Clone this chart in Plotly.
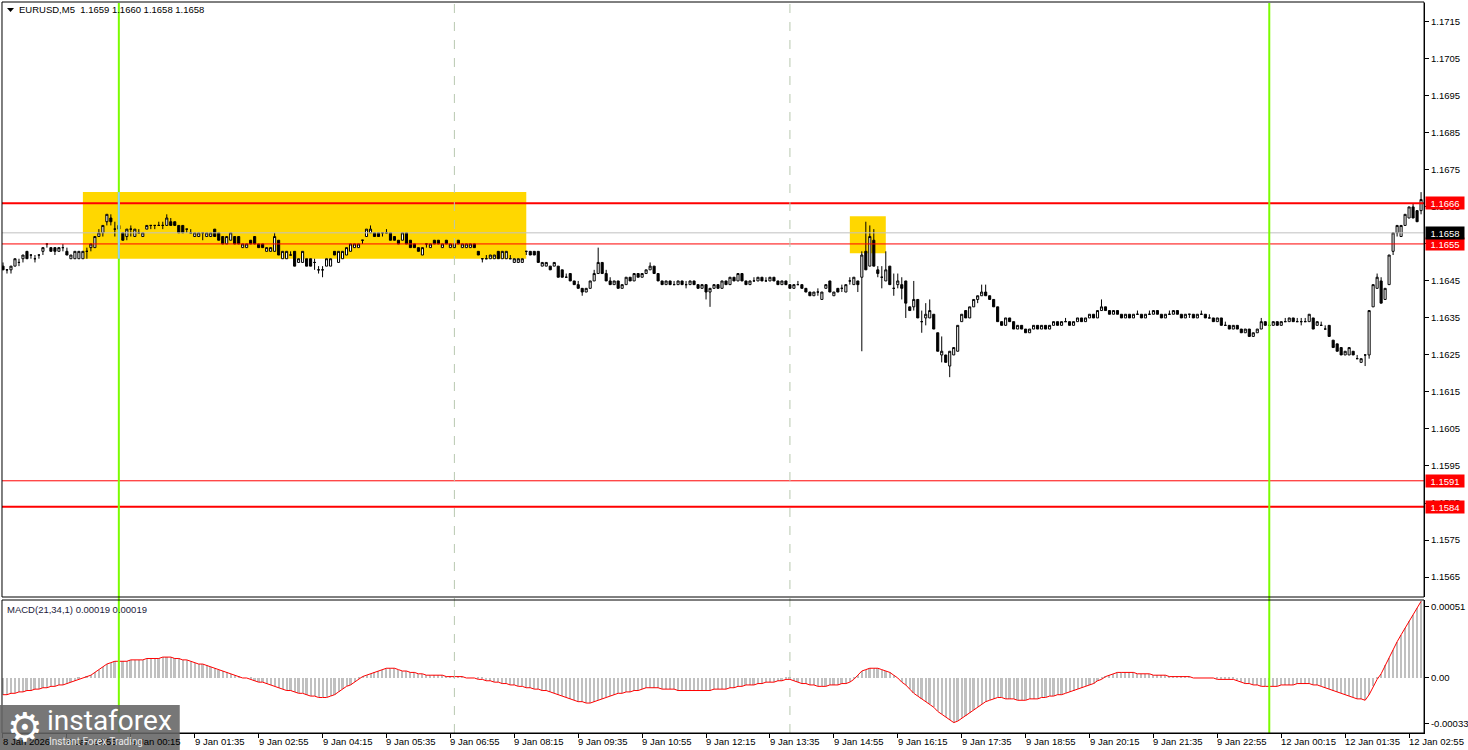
import plotly.graph_objects as go

W, H = 1468, 750

# ---------------- data (EURUSD M5, one value per bar) ----------------
opens = [
1.1649,1.1648,1.1648,1.1649,1.1650,1.1651,1.1653,1.1652,1.1651,1.1652,
1.1653,1.1655,1.1654,1.1654,1.1653,1.1654,1.1653,1.1651,1.1651,1.1651,
1.1651,1.1653,1.1654,1.1654,1.1657,1.1658,1.1661,1.1662,1.1659,1.1660,
1.1658,1.1657,1.1659,1.1657,1.1658,1.1657,1.1659,1.1660,1.1660,1.1660,
1.1660,1.1660,1.1661,1.1661,1.1660,1.1660,1.1659,1.1658,1.1657,1.1657,
1.1658,1.1657,1.1657,1.1659,1.1658,1.1657,1.1655,1.1656,1.1657,1.1657,
1.1654,1.1654,1.1656,1.1657,1.1655,1.1655,1.1653,1.1653,1.1653,1.1656,
1.1651,1.1651,1.1652,1.1653,1.1650,1.1650,1.1651,1.1651,1.1650,1.1648,
1.1648,1.1649,1.1649,1.1653,1.1650,1.1651,1.1652,1.1653,1.1654,1.1654,
1.1656,1.1657,1.1658,1.1658,1.1658,1.1658,1.1658,1.1658,1.1657,1.1656,
1.1656,1.1658,1.1656,1.1655,1.1654,1.1652,1.1655,1.1654,1.1656,1.1656,
1.1654,1.1656,1.1654,1.1654,1.1656,1.1654,1.1654,1.1654,1.1655,1.1653,
1.1651,1.1651,1.1651,1.1651,1.1653,1.1651,1.1651,1.1651,1.1650,1.1650,
1.1650,1.1653,1.1653,1.1653,1.1653,1.1649,1.1649,1.1649,1.1649,1.1649,
1.1648,1.1646,1.1647,1.1645,1.1644,1.1643,1.1642,1.1643,1.1645,1.1647,
1.1650,1.1647,1.1645,1.1644,1.1645,1.1643,1.1644,1.1646,1.1645,1.1647,
1.1646,1.1647,1.1648,1.1649,1.1647,1.1645,1.1644,1.1645,1.1644,1.1644,
1.1645,1.1644,1.1644,1.1645,1.1644,1.1643,1.1644,1.1642,1.1643,1.1644,
1.1643,1.1645,1.1644,1.1646,1.1645,1.1647,1.1645,1.1644,1.1645,1.1645,
1.1646,1.1645,1.1645,1.1646,1.1645,1.1644,1.1645,1.1644,1.1643,1.1644,
1.1644,1.1643,1.1642,1.1641,1.1642,1.1640,1.1643,1.1645,1.1641,1.1643,
1.1643,1.1642,1.1645,1.1644,1.1645,1.1646,1.1653,1.1649,1.1656,1.1648,
1.1646,1.1645,1.1649,1.1643,1.1644,1.1644,1.1645,1.1638,1.1638,1.1640,
1.1634,1.1635,1.1635,1.1636,1.1631,1.1625,1.1625,1.1622,1.1625,1.1626,
1.1634,1.1637,1.1635,1.1638,1.1640,1.1641,1.1642,1.1641,1.1640,1.1638,
1.1634,1.1633,1.1635,1.1634,1.1632,1.1633,1.1632,1.1631,1.1632,1.1633,
1.1632,1.1633,1.1632,1.1633,1.1634,1.1633,1.1634,1.1634,1.1633,1.1634,
1.1635,1.1634,1.1635,1.1636,1.1635,1.1637,1.1638,1.1637,1.1636,1.1637,
1.1636,1.1635,1.1636,1.1635,1.1636,1.1636,1.1635,1.1636,1.1636,1.1637,
1.1636,1.1635,1.1636,1.1636,1.1637,1.1636,1.1635,1.1636,1.1636,1.1635,
1.1636,1.1636,1.1635,1.1635,1.1634,1.1635,1.1633,1.1633,1.1632,1.1633,
1.1632,1.1631,1.1632,1.1630,1.1631,1.1632,1.1634,1.1633,1.1633,1.1634,
1.1633,1.1634,1.1634,1.1635,1.1634,1.1634,1.1634,1.1634,1.1635,1.1633,
1.1633,1.1632,1.1633,1.1629,1.1628,1.1627,1.1625,1.1625,1.1626,1.1624,
1.1623,1.1625,1.1625,1.1638,1.1643,1.1645,1.1640,1.1644,1.1653,1.1658,
1.1657,1.1660,1.1662,1.1665,1.1664,1.1664]

highs = [
1.1650,1.1648,1.1649,1.1651,1.1651,1.1652,1.1653,1.1652,1.1652,1.1652,
1.1654,1.1655,1.1654,1.1654,1.1654,1.1655,1.1654,1.1652,1.1653,1.1653,
1.1653,1.1654,1.1655,1.1657,1.1659,1.1660,1.1663,1.1663,1.1661,1.1660,
1.1658,1.1659,1.1660,1.1659,1.1659,1.1658,1.1660,1.1660,1.1660,1.1661,
1.1661,1.1663,1.1662,1.1661,1.1660,1.1660,1.1659,1.1659,1.1658,1.1658,
1.1658,1.1658,1.1658,1.1659,1.1658,1.1657,1.1657,1.1658,1.1657,1.1657,
1.1655,1.1655,1.1656,1.1657,1.1655,1.1655,1.1654,1.1654,1.1658,1.1656,
1.1653,1.1653,1.1653,1.1653,1.1651,1.1653,1.1651,1.1651,1.1651,1.1649,
1.1649,1.1651,1.1651,1.1653,1.1653,1.1653,1.1654,1.1655,1.1655,1.1655,
1.1656,1.1659,1.1660,1.1658,1.1658,1.1658,1.1659,1.1658,1.1657,1.1656,
1.1658,1.1658,1.1656,1.1655,1.1654,1.1654,1.1655,1.1655,1.1656,1.1656,
1.1655,1.1656,1.1655,1.1655,1.1656,1.1655,1.1655,1.1655,1.1655,1.1653,
1.1651,1.1652,1.1652,1.1652,1.1653,1.1653,1.1653,1.1652,1.1651,1.1651,
1.1651,1.1653,1.1653,1.1653,1.1653,1.1650,1.1650,1.1649,1.1650,1.1649,
1.1648,1.1647,1.1647,1.1645,1.1645,1.1643,1.1643,1.1645,1.1648,1.1654,
1.1650,1.1648,1.1646,1.1645,1.1645,1.1644,1.1646,1.1646,1.1647,1.1647,
1.1647,1.1648,1.1650,1.1649,1.1647,1.1645,1.1645,1.1645,1.1645,1.1645,
1.1645,1.1645,1.1645,1.1645,1.1644,1.1644,1.1644,1.1643,1.1644,1.1644,
1.1645,1.1645,1.1646,1.1646,1.1647,1.1647,1.1645,1.1645,1.1646,1.1646,
1.1646,1.1646,1.1646,1.1646,1.1645,1.1645,1.1645,1.1644,1.1644,1.1645,
1.1644,1.1643,1.1642,1.1642,1.1643,1.1642,1.1644,1.1645,1.1642,1.1643,
1.1644,1.1644,1.1646,1.1646,1.1645,1.1653,1.1661,1.1660,1.1659,1.1649,
1.1649,1.1653,1.1649,1.1647,1.1647,1.1646,1.1645,1.1638,1.1645,1.1640,
1.1637,1.1639,1.1640,1.1636,1.1631,1.1630,1.1625,1.1626,1.1627,1.1633,
1.1636,1.1637,1.1638,1.1640,1.1641,1.1644,1.1644,1.1641,1.1640,1.1638,
1.1634,1.1635,1.1635,1.1634,1.1633,1.1633,1.1632,1.1632,1.1633,1.1633,
1.1633,1.1633,1.1633,1.1634,1.1634,1.1634,1.1635,1.1634,1.1634,1.1635,
1.1635,1.1635,1.1636,1.1636,1.1637,1.1640,1.1638,1.1637,1.1637,1.1637,
1.1636,1.1636,1.1636,1.1636,1.1637,1.1636,1.1636,1.1637,1.1637,1.1637,
1.1636,1.1636,1.1637,1.1637,1.1637,1.1636,1.1636,1.1636,1.1636,1.1636,
1.1637,1.1636,1.1636,1.1635,1.1635,1.1635,1.1634,1.1633,1.1633,1.1633,
1.1632,1.1632,1.1632,1.1631,1.1632,1.1635,1.1634,1.1634,1.1634,1.1634,
1.1634,1.1635,1.1635,1.1635,1.1635,1.1635,1.1635,1.1636,1.1635,1.1634,
1.1634,1.1633,1.1633,1.1629,1.1628,1.1627,1.1626,1.1627,1.1626,1.1625,
1.1624,1.1625,1.1637,1.1644,1.1647,1.1646,1.1643,1.1652,1.1658,1.1660,
1.1660,1.1663,1.1665,1.1666,1.1664,1.1669]

lows = [
1.1648,1.1647,1.1647,1.1649,1.1649,1.1650,1.1651,1.1651,1.1650,1.1651,
1.1652,1.1654,1.1653,1.1652,1.1653,1.1653,1.1652,1.1651,1.1651,1.1651,
1.1651,1.1651,1.1653,1.1654,1.1657,1.1657,1.1660,1.1660,1.1657,1.1658,
1.1656,1.1656,1.1657,1.1657,1.1658,1.1657,1.1659,1.1659,1.1659,1.1660,
1.1659,1.1660,1.1660,1.1660,1.1658,1.1658,1.1658,1.1658,1.1657,1.1657,
1.1656,1.1657,1.1657,1.1657,1.1656,1.1655,1.1655,1.1656,1.1655,1.1655,
1.1654,1.1654,1.1655,1.1655,1.1654,1.1654,1.1653,1.1653,1.1653,1.1652,
1.1651,1.1651,1.1652,1.1649,1.1650,1.1650,1.1649,1.1649,1.1648,1.1647,
1.1646,1.1649,1.1649,1.1652,1.1650,1.1651,1.1652,1.1653,1.1654,1.1654,
1.1655,1.1657,1.1658,1.1657,1.1657,1.1657,1.1658,1.1656,1.1656,1.1655,
1.1656,1.1655,1.1654,1.1654,1.1653,1.1652,1.1654,1.1654,1.1655,1.1655,
1.1654,1.1655,1.1654,1.1654,1.1655,1.1654,1.1654,1.1654,1.1654,1.1652,
1.1650,1.1651,1.1651,1.1651,1.1651,1.1651,1.1651,1.1651,1.1650,1.1650,
1.1650,1.1652,1.1652,1.1652,1.1650,1.1649,1.1649,1.1648,1.1649,1.1646,
1.1646,1.1646,1.1645,1.1644,1.1643,1.1641,1.1642,1.1643,1.1645,1.1647,
1.1647,1.1645,1.1644,1.1644,1.1643,1.1643,1.1644,1.1645,1.1645,1.1646,
1.1646,1.1647,1.1648,1.1647,1.1645,1.1644,1.1644,1.1644,1.1644,1.1644,
1.1644,1.1643,1.1644,1.1644,1.1643,1.1643,1.1640,1.1638,1.1643,1.1643,
1.1643,1.1644,1.1644,1.1645,1.1645,1.1645,1.1644,1.1644,1.1645,1.1645,
1.1645,1.1645,1.1645,1.1645,1.1644,1.1644,1.1644,1.1643,1.1643,1.1644,
1.1643,1.1642,1.1641,1.1641,1.1641,1.1640,1.1643,1.1642,1.1641,1.1642,
1.1642,1.1642,1.1644,1.1644,1.1642,1.1626,1.1648,1.1649,1.1649,1.1646,
1.1643,1.1645,1.1644,1.1641,1.1643,1.1640,1.1635,1.1637,1.1637,1.1635,
1.1631,1.1633,1.1635,1.1632,1.1626,1.1623,1.1623,1.1619,1.1625,1.1626,
1.1634,1.1635,1.1635,1.1638,1.1639,1.1641,1.1641,1.1640,1.1638,1.1634,
1.1633,1.1633,1.1634,1.1632,1.1632,1.1632,1.1631,1.1631,1.1632,1.1632,
1.1632,1.1632,1.1632,1.1633,1.1633,1.1633,1.1634,1.1633,1.1633,1.1634,
1.1634,1.1634,1.1635,1.1635,1.1635,1.1637,1.1637,1.1636,1.1636,1.1636,
1.1635,1.1635,1.1635,1.1635,1.1636,1.1635,1.1635,1.1636,1.1636,1.1636,
1.1635,1.1635,1.1636,1.1636,1.1636,1.1635,1.1635,1.1635,1.1635,1.1635,
1.1636,1.1635,1.1635,1.1634,1.1634,1.1633,1.1633,1.1632,1.1632,1.1632,
1.1631,1.1631,1.1630,1.1630,1.1631,1.1632,1.1633,1.1633,1.1633,1.1633,
1.1633,1.1634,1.1634,1.1634,1.1634,1.1633,1.1634,1.1634,1.1632,1.1633,
1.1633,1.1632,1.1630,1.1627,1.1626,1.1625,1.1625,1.1625,1.1625,1.1624,
1.1623,1.1622,1.1624,1.1638,1.1643,1.1639,1.1640,1.1644,1.1652,1.1657,
1.1657,1.1660,1.1662,1.1662,1.1661,1.1663]

closes = [
1.1648,1.1648,1.1649,1.1651,1.1650,1.1652,1.1651,1.1652,1.1651,1.1652,
1.1654,1.1655,1.1653,1.1653,1.1654,1.1654,1.1652,1.1652,1.1653,1.1653,
1.1653,1.1653,1.1655,1.1657,1.1658,1.1660,1.1663,1.1661,1.1659,1.1659,
1.1656,1.1659,1.1659,1.1659,1.1658,1.1658,1.1660,1.1660,1.1660,1.1660,
1.1660,1.1662,1.1660,1.1660,1.1658,1.1658,1.1659,1.1658,1.1658,1.1658,
1.1658,1.1658,1.1658,1.1657,1.1656,1.1655,1.1657,1.1658,1.1655,1.1655,
1.1655,1.1655,1.1655,1.1655,1.1654,1.1654,1.1654,1.1654,1.1657,1.1652,
1.1653,1.1653,1.1652,1.1649,1.1651,1.1653,1.1649,1.1649,1.1650,1.1648,
1.1648,1.1651,1.1651,1.1652,1.1653,1.1653,1.1654,1.1655,1.1655,1.1655,
1.1656,1.1659,1.1659,1.1657,1.1657,1.1658,1.1658,1.1656,1.1656,1.1655,
1.1658,1.1655,1.1654,1.1654,1.1653,1.1654,1.1655,1.1655,1.1655,1.1655,
1.1655,1.1655,1.1655,1.1655,1.1655,1.1655,1.1655,1.1655,1.1654,1.1652,
1.1651,1.1651,1.1652,1.1652,1.1651,1.1653,1.1653,1.1651,1.1651,1.1651,
1.1651,1.1653,1.1652,1.1652,1.1650,1.1650,1.1650,1.1648,1.1650,1.1646,
1.1646,1.1646,1.1645,1.1644,1.1643,1.1642,1.1643,1.1645,1.1647,1.1650,
1.1647,1.1645,1.1644,1.1645,1.1643,1.1644,1.1646,1.1645,1.1647,1.1646,
1.1647,1.1648,1.1649,1.1647,1.1645,1.1644,1.1645,1.1644,1.1644,1.1645,
1.1644,1.1644,1.1645,1.1644,1.1643,1.1644,1.1642,1.1643,1.1644,1.1643,
1.1645,1.1644,1.1646,1.1645,1.1647,1.1645,1.1644,1.1645,1.1645,1.1646,
1.1645,1.1645,1.1646,1.1645,1.1644,1.1645,1.1644,1.1643,1.1644,1.1644,
1.1643,1.1642,1.1641,1.1642,1.1642,1.1642,1.1644,1.1642,1.1642,1.1642,
1.1643,1.1644,1.1645,1.1646,1.1644,1.1652,1.1648,1.1657,1.1649,1.1647,
1.1646,1.1648,1.1644,1.1643,1.1645,1.1643,1.1639,1.1637,1.1640,1.1635,
1.1634,1.1636,1.1637,1.1632,1.1626,1.1626,1.1623,1.1626,1.1627,1.1633,
1.1636,1.1635,1.1638,1.1640,1.1641,1.1642,1.1641,1.1640,1.1638,1.1634,
1.1633,1.1635,1.1634,1.1632,1.1633,1.1632,1.1631,1.1632,1.1633,1.1632,
1.1633,1.1632,1.1633,1.1634,1.1633,1.1634,1.1634,1.1633,1.1634,1.1635,
1.1634,1.1635,1.1636,1.1635,1.1637,1.1638,1.1637,1.1636,1.1637,1.1636,
1.1635,1.1636,1.1635,1.1636,1.1636,1.1635,1.1636,1.1636,1.1637,1.1636,
1.1635,1.1636,1.1636,1.1637,1.1636,1.1635,1.1636,1.1636,1.1635,1.1636,
1.1636,1.1635,1.1635,1.1634,1.1635,1.1633,1.1633,1.1632,1.1633,1.1632,
1.1631,1.1632,1.1630,1.1631,1.1632,1.1634,1.1633,1.1633,1.1634,1.1633,
1.1634,1.1634,1.1635,1.1634,1.1634,1.1634,1.1634,1.1636,1.1632,1.1634,
1.1633,1.1632,1.1630,1.1627,1.1626,1.1625,1.1626,1.1627,1.1625,1.1624,
1.1624,1.1625,1.1637,1.1644,1.1646,1.1639,1.1643,1.1652,1.1658,1.1660,
1.1660,1.1663,1.1665,1.1662,1.1661,1.1667]

# MACD(21,34,1) main value per bar
macd_main = [
-0.00012,-0.00012,-0.00011,-0.00011,-0.00010,-0.00010,-0.00009,-0.00009,-0.00008,-0.00008,
-0.00007,-0.00007,-0.00006,-0.00006,-0.00005,-0.00005,-0.00004,-0.00003,-0.00002,-0.00001,
0.00000,0.00001,0.00002,0.00004,0.00006,0.00008,0.00010,0.00011,0.00012,0.00012,
0.00012,0.00012,0.00013,0.00013,0.00013,0.00013,0.00014,0.00014,0.00014,0.00014,
0.00015,0.00015,0.00015,0.00014,0.00014,0.00013,0.00013,0.00012,0.00011,0.00010,
0.00010,0.00009,0.00008,0.00007,0.00006,0.00005,0.00004,0.00003,0.00002,0.00001,
0.00000,0.00000,-0.00001,-0.00002,-0.00003,-0.00003,-0.00004,-0.00005,-0.00006,-0.00007,
-0.00008,-0.00009,-0.00009,-0.00010,-0.00011,-0.00011,-0.00012,-0.00013,-0.00013,-0.00014,
-0.00014,-0.00014,-0.00013,-0.00012,-0.00010,-0.00008,-0.00006,-0.00005,-0.00003,-0.00001,
0.00001,0.00002,0.00003,0.00004,0.00005,0.00006,0.00007,0.00007,0.00007,0.00006,
0.00005,0.00005,0.00004,0.00004,0.00003,0.00003,0.00002,0.00002,0.00002,0.00002,
0.00002,0.00001,0.00001,0.00001,0.00001,0.00001,0.00000,0.00000,0.00000,-0.00001,
-0.00001,-0.00002,-0.00002,-0.00003,-0.00003,-0.00004,-0.00004,-0.00005,-0.00005,-0.00006,
-0.00006,-0.00007,-0.00007,-0.00008,-0.00008,-0.00009,-0.00009,-0.00010,-0.00011,-0.00012,
-0.00013,-0.00014,-0.00015,-0.00016,-0.00017,-0.00017,-0.00018,-0.00018,-0.00017,-0.00016,
-0.00015,-0.00014,-0.00013,-0.00012,-0.00011,-0.00011,-0.00010,-0.00010,-0.00009,-0.00009,
-0.00008,-0.00007,-0.00007,-0.00007,-0.00007,-0.00008,-0.00008,-0.00008,-0.00008,-0.00009,
-0.00009,-0.00009,-0.00009,-0.00009,-0.00009,-0.00009,-0.00009,-0.00009,-0.00008,-0.00008,
-0.00008,-0.00008,-0.00007,-0.00007,-0.00006,-0.00006,-0.00005,-0.00005,-0.00005,-0.00004,
-0.00004,-0.00003,-0.00003,-0.00003,-0.00002,-0.00002,-0.00001,-0.00001,-0.00002,-0.00003,
-0.00004,-0.00004,-0.00005,-0.00005,-0.00006,-0.00006,-0.00006,-0.00005,-0.00005,-0.00005,
-0.00004,-0.00004,-0.00003,-0.00001,0.00002,0.00005,0.00006,0.00007,0.00007,0.00007,
0.00006,0.00005,0.00004,0.00002,0.00000,-0.00003,-0.00005,-0.00008,-0.00011,-0.00013,
-0.00015,-0.00017,-0.00019,-0.00021,-0.00024,-0.00026,-0.00028,-0.00030,-0.00032,-0.00031,
-0.00029,-0.00027,-0.00025,-0.00023,-0.00021,-0.00019,-0.00017,-0.00016,-0.00015,-0.00014,
-0.00014,-0.00015,-0.00015,-0.00015,-0.00016,-0.00016,-0.00016,-0.00015,-0.00015,-0.00015,
-0.00014,-0.00014,-0.00013,-0.00013,-0.00012,-0.00012,-0.00011,-0.00010,-0.00009,-0.00008,
-0.00007,-0.00006,-0.00005,-0.00004,-0.00002,-0.00001,0.00001,0.00002,0.00003,0.00004,
0.00004,0.00004,0.00004,0.00004,0.00003,0.00003,0.00003,0.00003,0.00002,0.00002,
0.00002,0.00002,0.00001,0.00001,0.00001,0.00001,0.00001,0.00001,0.00000,0.00000,
0.00000,0.00000,0.00000,0.00000,-0.00001,-0.00001,-0.00001,-0.00001,-0.00001,-0.00002,
-0.00003,-0.00004,-0.00004,-0.00005,-0.00005,-0.00006,-0.00006,-0.00006,-0.00006,-0.00006,
-0.00005,-0.00005,-0.00005,-0.00005,-0.00004,-0.00004,-0.00004,-0.00004,-0.00005,-0.00005,
-0.00006,-0.00007,-0.00008,-0.00009,-0.00010,-0.00011,-0.00012,-0.00013,-0.00014,-0.00015,
-0.00015,-0.00016,-0.00012,-0.00006,-0.00001,0.00003,0.00009,0.00014,0.00020,0.00026,
0.00031,0.00036,0.00041,0.00045,0.00050,0.00055]

time_tick_bars = [0, 16, 32, 48, 64, 80, 96, 112, 128, 144, 160, 176,
                  192, 208, 224, 240, 256, 272, 288, 304, 320, 336, 352]
time_tick_labels = ["8 Jan 2026", "8 Jan 22:55", "9 Jan 00:15", "9 Jan 01:35",
                    "9 Jan 02:55", "9 Jan 04:15", "9 Jan 05:35", "9 Jan 06:55",
                    "9 Jan 08:15", "9 Jan 09:35", "9 Jan 10:55", "9 Jan 12:15",
                    "9 Jan 13:35", "9 Jan 14:55", "9 Jan 16:15", "9 Jan 17:35",
                    "9 Jan 18:55", "9 Jan 20:15", "9 Jan 21:35", "9 Jan 22:55",
                    "12 Jan 00:15", "12 Jan 01:35", "12 Jan 02:55"]
price_ticks = [1.1715, 1.1705, 1.1695, 1.1685, 1.1675, 1.1665, 1.1655, 1.1645,
               1.1635, 1.1625, 1.1615, 1.1605, 1.1595, 1.1585, 1.1575, 1.1565]
macd_ticks = [0.00051, 0.0, -0.00033]
macd_tick_labels = ["0.00051", "0.00", "-0.00033"]

red_levels = [1.1666, 1.1655, 1.1591, 1.1584]
red_level_widths = [2, 1, 1, 2]
bid_level = 1.1658
green_vline_bars = [29, 317]
dashed_vline_bars = [113, 197]
zones = [(20, 131, 1.1651, 1.1669), (212, 221, 1.16525, 1.16625)]

title_text = "EURUSD,M5  1.1659 1.1660 1.1658 1.1658"
macd_text = "MACD(21,34,1) 0.00019 0.00019"

n = len(closes)
for arr in (opens, highs, lows, macd_main):
    assert len(arr) == n, (len(arr), n)
bars = list(range(n))

# ---------------- geometry helpers ----------------
def px(x):
    return x / W

def py(y):
    return 1 - y / H

FONT = "Liberation Sans, Arial, sans-serif"
LEFT, RIGHT = 2, 1426
X_RANGE = [-0.25, n - 0.25]

fig = go.Figure()

fig.add_trace(go.Candlestick(
    x=bars, open=opens, high=highs, low=lows, close=closes,
    increasing=dict(line=dict(color="black", width=1), fillcolor="white"),
    decreasing=dict(line=dict(color="black", width=1), fillcolor="black"),
    whiskerwidth=0, hoverinfo="skip", xaxis="x", yaxis="y"))

fig.add_trace(go.Bar(
    x=bars, y=macd_main, width=0.5,
    marker=dict(color="#C0C0C0", line=dict(width=0)),
    hoverinfo="skip", xaxis="x2", yaxis="y2"))
fig.add_trace(go.Scatter(
    x=bars, y=macd_main, mode="lines",
    line=dict(color="red", width=1),
    hoverinfo="skip", xaxis="x2", yaxis="y2"))

shapes = []
# zones (behind candles)
for x0, x1, y0, y1 in zones:
    shapes.append(dict(type="rect", xref="x", yref="y", x0=x0, x1=x1, y0=y0, y1=y1,
                       fillcolor="#FFD700", line=dict(width=0), layer="below"))
# bid line
shapes.append(dict(type="line", xref="paper", yref="y", x0=px(LEFT), x1=px(RIGHT),
                   y0=bid_level, y1=bid_level, line=dict(color="#C0C0C0", width=1)))
# red levels
for lv, lw in zip(red_levels, red_level_widths):
    shapes.append(dict(type="line", xref="paper", yref="y", x0=px(LEFT), x1=px(RIGHT),
                       y0=lv, y1=lv, line=dict(color="#FF0000", width=lw)))
# dashed vertical lines
for b in dashed_vline_bars:
    shapes.append(dict(type="line", xref="x", yref="paper", x0=b, x1=b,
                       y0=py(733), y1=py(3),
                       line=dict(color="#B8C8B0", width=1, dash="dash")))
# green vertical lines
for b in green_vline_bars:
    shapes.append(dict(type="line", xref="x", yref="paper", x0=b, x1=b,
                       y0=py(733), y1=py(3),
                       line=dict(color="#7CFC00", width=2)))
# green line seen through the zone
shapes.append(dict(type="line", xref="x", yref="y", x0=green_vline_bars[0], x1=green_vline_bars[0],
                   y0=zones[0][2], y1=zones[0][3], line=dict(color="#8ECFF5", width=2)))
# panel frames
shapes.append(dict(type="rect", xref="paper", yref="paper", x0=px(LEFT), x1=px(RIGHT),
                   y0=py(597), y1=py(2), line=dict(color="black", width=1)))
shapes.append(dict(type="rect", xref="paper", yref="paper", x0=px(LEFT), x1=px(RIGHT),
                   y0=py(733), y1=py(600), line=dict(color="black", width=1)))
# title triangle
shapes.append(dict(type="path", xref="paper", yref="paper",
                   path=f"M {px(7)},{py(8)} L {px(14)},{py(8)} L {px(10.5)},{py(12)} Z",
                   fillcolor="black", line=dict(width=0)))
# logo plate
shapes.append(dict(type="rect", xref="paper", yref="paper", x0=0, x1=px(180),
                   y0=0, y1=py(705), fillcolor="rgba(100,100,100,0.88)",
                   line=dict(width=0)))

annotations = []
# time labels
for b, t in zip(time_tick_bars, time_tick_labels):
    annotations.append(dict(x=b, xref="x2", y=py(741), yref="paper", text=t,
                            xanchor="left", yanchor="middle", showarrow=False,
                            xshift=-2, font=dict(family=FONT, size=9.5, color="black")))
# level boxes
for lv in red_levels:
    annotations.append(dict(x=px(1427), xref="paper", y=lv, yref="y", text=f"{lv:.4f}",
                            xanchor="left", yanchor="middle", showarrow=False,
                            bgcolor="#FF0000", width=36, height=10, borderpad=1,
                            font=dict(family=FONT, size=9.5, color="white")))
annotations.append(dict(x=px(1427), xref="paper", y=bid_level, yref="y", text=f"{bid_level:.4f}",
                        xanchor="left", yanchor="middle", showarrow=False,
                        bgcolor="black", width=36, height=10, borderpad=1,
                        font=dict(family=FONT, size=9.5, color="white")))
# titles
annotations.append(dict(x=px(17), y=py(10), xref="paper", yref="paper", text=title_text,
                        xanchor="left", yanchor="middle", showarrow=False,
                        font=dict(family=FONT, size=9.5, color="black")))
annotations.append(dict(x=px(5), y=py(609), xref="paper", yref="paper", text=macd_text,
                        xanchor="left", yanchor="middle", showarrow=False,
                        font=dict(family=FONT, size=9.5, color="#1A1A3A")))
# logo
annotations.append(dict(x=px(25), y=py(727), xref="paper", yref="paper", text="⚙",
                        xanchor="center", yanchor="middle", showarrow=False,
                        borderpad=0, font=dict(family="DejaVu Sans", size=40, color="white")))
annotations.append(dict(x=px(45), y=py(720), xref="paper", yref="paper", text="instaforex",
                        xanchor="left", yanchor="middle", showarrow=False,
                        font=dict(family="Roboto, Liberation Sans", size=28, color="white")))
annotations.append(dict(x=px(47), y=py(741), xref="paper", yref="paper", text="Instant Forex Trading",
                        xanchor="left", yanchor="middle", showarrow=False,
                        font=dict(family="Roboto, Liberation Sans", size=10, color="#E8E8E8")))

axis_common = dict(showgrid=False, zeroline=False, fixedrange=True)

fig.update_layout(
    width=W, height=H, autosize=False,
    margin=dict(l=0, r=0, t=0, b=0, pad=0),
    paper_bgcolor="white", plot_bgcolor="white",
    showlegend=False, bargap=0, boxgap=0.25,
    font=dict(family=FONT, size=9.5, color="black"),
    xaxis=dict(domain=[px(LEFT), px(RIGHT)], range=X_RANGE, anchor="y",
               showticklabels=False, ticks="", rangeslider=dict(visible=False),
               showline=False, **axis_common),
    yaxis=dict(domain=[py(597), py(3)], range=[1.15596, 1.17201], anchor="x",
               side="right", tickvals=price_ticks,
               ticktext=[f"{v:.4f}" for v in price_ticks],
               ticks="outside", ticklen=4, tickcolor="black",
               showline=True, linecolor="black", linewidth=1,
               tickfont=dict(family=FONT, size=9.5, color="black"), **axis_common),
    xaxis2=dict(domain=[px(LEFT), px(RIGHT)], range=X_RANGE, anchor="y2",
                tickvals=time_tick_bars, showticklabels=False,
                ticks="outside", ticklen=4, tickcolor="black",
                showline=True, linecolor="black", linewidth=1, **axis_common),
    yaxis2=dict(domain=[py(733), py(600)], range=[-0.000395, 0.000560], anchor="x2",
                side="right", tickvals=macd_ticks, ticktext=macd_tick_labels,
                ticks="outside", ticklen=4, tickcolor="black",
                showline=True, linecolor="black", linewidth=1,
                tickfont=dict(family=FONT, size=9.5, color="black"), **axis_common),
    shapes=shapes, annotations=annotations,
)

fig.write_html("out.html", config={"displayModeBar": False},
               post_script="document.body.style.margin='0';document.body.style.overflow='hidden';")
